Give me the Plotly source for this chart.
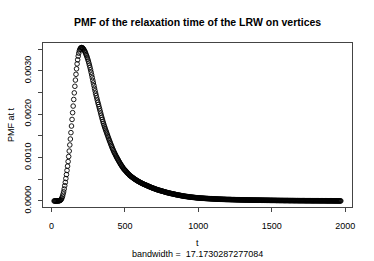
import numpy as np
import plotly.graph_objects as go

# Density estimate of relaxation time (units of 1e-6), 512 grid points
t_min, t_max = 18.0, 1970.0
pmf_e6 = [
    0, 0, 0, 0, 0, 0, 1, 1, 2, 5,
    8, 15, 26, 43, 70, 109, 158, 210, 276, 352,
    428, 517, 608, 703, 802, 908, 1024, 1150, 1290, 1427,
    1574, 1726, 1878, 2034, 2186, 2338, 2490, 2642, 2785, 2918,
    3044, 3158, 3252, 3336, 3405, 3459, 3493, 3518, 3531, 3535,
    3531, 3522, 3508, 3487, 3464, 3438, 3410, 3374, 3343, 3306,
    3266, 3223, 3177, 3127, 3075, 3020, 2963, 2903, 2840, 2779,
    2719, 2658, 2597, 2537, 2480, 2427, 2374, 2322, 2272, 2223,
    2173, 2124, 2074, 2024, 1974, 1926, 1879, 1832, 1789, 1747,
    1707, 1669, 1631, 1594, 1558, 1521, 1485, 1449, 1412, 1379,
    1345, 1311, 1278, 1245, 1213, 1181, 1151, 1125, 1098, 1072,
    1045, 1019, 995, 972, 949, 926, 903, 881, 858, 837,
    818, 799, 780, 760, 742, 727, 713, 700, 685, 667,
    654, 641, 627, 614, 600, 589, 578, 567, 557, 548,
    538, 529, 519, 510, 501, 493, 484, 476, 467, 460,
    453, 445, 438, 431, 424, 417, 410, 404, 397, 391,
    385, 380, 374, 369, 363, 357, 352, 346, 340, 335,
    329, 323, 318, 312, 306, 302, 297, 292, 288, 283,
    278, 273, 268, 264, 259, 255, 251, 247, 244, 240,
    236, 232, 229, 225, 221, 217, 214, 210, 206, 202,
    198, 195, 192, 189, 185, 182, 179, 176, 173, 170,
    168, 165, 162, 159, 156, 153, 150, 147, 144, 142,
    139, 137, 134, 132, 129, 127, 124, 122, 119, 117,
    114, 112, 110, 108, 106, 104, 103, 101, 99, 97,
    95, 93, 92, 90, 88, 87, 85, 84, 83, 81,
    80, 78, 77, 75, 74, 73, 71, 70,
    69, 68, 67, 66, 65, 64, 63, 63, 62, 61, 60, 59, 58,
    57, 57, 56, 55, 54, 54, 53, 52, 51, 51, 50, 49, 48,
    48, 47, 46, 46, 45, 44, 44, 43, 42, 42, 41, 41, 40,
    40, 39, 39, 38, 38, 37, 37, 36, 36, 35, 35, 34, 34,
    34, 34, 33, 33, 33, 32, 32, 31, 31, 31, 30, 30, 30, 29, 29, 28, 28, 28, 27, 27, 27, 26, 26, 26, 25, 25,
    25, 25, 24, 24, 24, 24, 23, 23, 23, 22, 22, 22, 22, 21, 21, 21, 21, 20, 20, 20, 20, 20, 19, 19, 19, 19,
    19, 19, 18, 18, 18, 18, 18, 17, 17, 17, 17, 17, 16, 16, 16, 16, 16, 15, 15, 15, 15, 15, 14, 14, 14, 14,
    14, 14, 13, 13, 13, 13, 13, 13, 12, 12, 12, 12, 12, 12, 11, 11, 11, 11, 11, 11, 11, 10, 10, 10, 10, 10,
    10, 10, 10, 10, 9, 9, 9, 9, 9, 9, 9, 9, 9, 8, 8, 8, 8, 8, 8, 8, 8, 7, 7, 7, 7, 7,
    7, 7, 7, 7, 7, 7, 7, 6, 6, 6, 6, 6, 6, 6, 6, 6, 6, 6, 5, 5, 5, 5, 5, 5, 5, 5,
    5, 5, 5, 5, 5, 5, 4, 4, 4, 4, 4, 4, 4, 4, 4, 4, 4, 4, 4, 3, 3, 3, 3, 3, 3, 3,
    3, 3, 3, 3, 3, 3, 2, 2, 2, 2, 2, 2, 2, 2, 1, 1, 1, 1, 1, 1,
]
pmf = np.array(pmf_e6) * 1e-6
t = np.linspace(t_min, t_max, len(pmf))

x_ticks = [0, 500, 1000, 1500, 2000]
y_ticks = [0.0, 0.0005, 0.0010, 0.0015, 0.0020, 0.0025, 0.0030, 0.0035]
y_ticktext = ["0.0000", "", "0.0010", "", "0.0020", "", "0.0030", ""]

title = "<b>PMF of the relaxation time of the LRW on vertices</b>"
x_label = "t"
y_label = "PMF at t"
sub_label = "bandwidth =  17.1730287277084"

FONT = "Liberation Sans, Arial, sans-serif"
fig = go.Figure()
fig.add_trace(go.Scatter(
    x=t, y=pmf, mode="markers",
    marker=dict(symbol="circle-open", size=4.6, color="#000000",
                line=dict(width=0.9, color="#000000")),
    hoverinfo="skip", showlegend=False,
))

W, H = 374, 261
L, R, T, B = 43, 22, 43, 54
ph = H - T - B

axis_common = dict(showline=True, linecolor="#444444", linewidth=1, mirror=True,
                   ticks="outside", ticklen=4, tickcolor="#444444", tickwidth=1,
                   showgrid=False, zeroline=False,
                   tickfont=dict(family=FONT, size=9, color="#000000"))
fig.update_xaxes(range=[-57.5, 2046], tickvals=x_ticks, ticktext=[str(v) for v in x_ticks],
                 ticklabelstandoff=6, **axis_common)
fig.update_yaxes(range=[-0.000139, 0.003639], tickvals=y_ticks, ticktext=y_ticktext,
                 tickangle=-90, ticklabelstandoff=3, **axis_common)

fig.update_layout(
    width=W, height=H, margin=dict(l=L, r=R, t=T, b=B),
    paper_bgcolor="white", plot_bgcolor="white",
    font=dict(family=FONT, color="#000000"),
    annotations=[
        dict(text=title, xref="paper", yref="paper", x=0.5, y=1 + (T - 21.7) / ph,
             xanchor="center", yanchor="middle", showarrow=False,
             font=dict(family=FONT, size=10.5, color="#000000")),
        dict(text=x_label, xref="paper", yref="paper", x=0.5, y=-(243 - (H - B)) / ph,
             xanchor="center", yanchor="middle", showarrow=False,
             font=dict(family=FONT, size=9, color="#000000")),
        dict(text=sub_label, xref="paper", yref="paper", x=0.5, y=-(254 - (H - B)) / ph,
             xanchor="center", yanchor="middle", showarrow=False,
             font=dict(family=FONT, size=9, color="#000000")),
        dict(text=y_label, xref="paper", yref="paper", x=-(L - 11) / (W - L - R), y=0.5,
             xanchor="center", yanchor="middle", textangle=-90, showarrow=False,
             font=dict(family=FONT, size=9, color="#000000")),
    ],
)
fig.write_html("out.html", config={"displayModeBar": False, "staticPlot": True},
               post_script="document.body.style.margin='0';document.body.style.overflow='hidden';")
